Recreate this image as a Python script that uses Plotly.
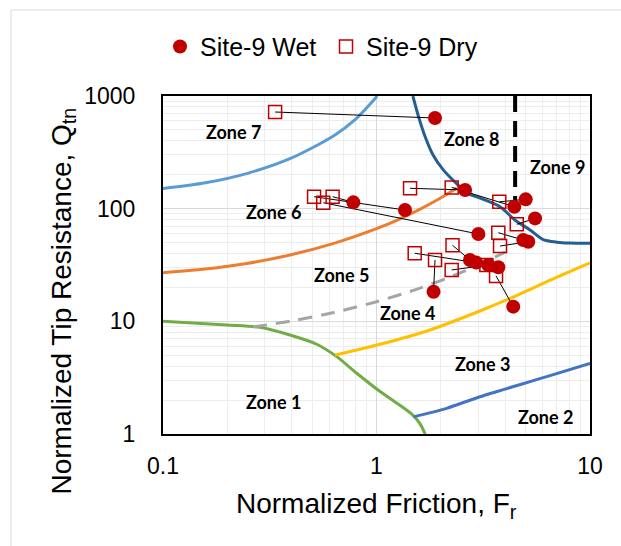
import plotly.graph_objects as go

# ---- Site-9 CPT data: normalized friction ratio Fr (%) and tip resistance Qtn ----
# Each dry sounding point is paired with the wet point at the same index.
dry_fr = [0.335, 0.51, 0.563, 0.623, 1.436, 2.25, 3.76, 4.54, 3.72, 3.79, 2.27, 1.51, 1.88, 2.25, 3.27, 3.63]
dry_qtn = [721, 127.7, 113, 127.7, 151.6, 154.5, 115, 72.6, 61.2, 46.6, 47.3, 40.2, 35, 28.6, 31.6, 25.3]
wet_fr = [1.88, 1.36, 3.0, 0.779, 2.6, 4.42, 5.0, 5.53, 4.87, 5.14, 2.74, 2.93, 1.85, 3.34, 3.72, 4.37]
wet_qtn = [638, 97.3, 59.6, 113.8, 146.5, 104, 121, 82, 52.7, 50.9, 35, 33.2, 18.3, 31.6, 30.2, 13.5]

# ---- Soil behaviour type zone boundaries ----
b7_fr = [0.1, 0.158, 0.251, 0.398, 0.631, 0.794, 1.0, 1.006]
b7_q = [150.8, 169.5, 207, 280.8, 444.6, 617, 983.5, 1000]

b6_fr = [0.1, 0.158, 0.251, 0.398, 0.631, 1.0, 1.259, 1.585, 1.995, 2.38]
b6_q = [27.0, 29.1, 32.8, 39.0, 49.2, 66.5, 79.7, 98.0, 124.3, 152.6]

b8_fr = [1.48, 1.58, 1.69, 1.84, 2.06, 2.4, 2.65, 3.06, 3.79, 4.46, 5.24, 6.0, 7.0, 8.0, 10.0]
b8_q = [1000, 640, 435, 300, 220, 163, 137, 124, 104, 79, 64.7, 53.5, 50.4, 49.5, 49.3]

b9_fr = [4.46, 4.46]
b9_q = [1000, 79]

b45_fr = [0.264, 0.398, 0.631, 1.0, 1.585, 2.512, 3.548, 4.0]
b45_q = [8.92, 10.06, 11.98, 14.93, 19.59, 27.3, 36.8, 41.2]

b34_fr = [0.64, 1.04, 1.78, 3.05, 4.36, 7.0, 10.0]
b34_q = [5.03, 6.26, 8.38, 12.35, 16.4, 24.7, 33.1]

b23_fr = [1.49, 2.13, 3.05, 6.27, 10.0]
b23_q = [1.42, 1.69, 2.14, 3.23, 4.24]

b1_fr = [0.1, 0.199, 0.284, 0.393, 0.525, 0.651, 0.808, 1.016, 1.26, 1.48, 1.60, 1.69]
b1_q = [10.0, 9.28, 8.85, 7.56, 6.26, 4.86, 3.46, 2.46, 1.85, 1.47, 1.23, 1.0]

zone_names = ["Zone 1", "Zone 2", "Zone 3", "Zone 4", "Zone 5", "Zone 6", "Zone 7", "Zone 8", "Zone 9"]
# label anchor points (log10 Fr, log10 Qtn)
zone_pos = [(-0.483, 0.281), (0.792, 0.153), (0.496, 0.621), (0.143, 1.074), (-0.163, 1.411),
            (-0.483, 1.973), (-0.671, 2.683), (0.446, 2.616), (0.848, 2.367)]

x_ticks = [0.1, 1, 10]
x_ticktext = ["0.1", "1", "10"]
y_ticks = [1, 10, 100, 1000]
y_ticktext = ["1", "10", "100", "1000"]

RED = "#C00000"
FONT = "Liberation Sans, Arial, sans-serif"

fig = go.Figure()


def boundary(xs, ys, color, width=3, dash="solid", shape="spline"):
    fig.add_trace(go.Scatter(x=xs, y=ys, mode="lines", showlegend=False, hoverinfo="skip",
                             line=dict(color=color, width=width, dash=dash, shape=shape, smoothing=0.8)))


boundary(b7_fr, b7_q, "#5B9BD5")
boundary(b6_fr, b6_q, "#ED7D31")
boundary(b8_fr, b8_q, "#255E91")
boundary(b1_fr, b1_q, "#70AD47")
boundary(b34_fr, b34_q, "#FFC000")
boundary(b23_fr, b23_q, "#4472C4")
boundary(b45_fr, b45_q, "#A5A5A5", dash="14px,9px")
boundary(b9_fr, b9_q, "#000000", width=4, dash="16px,9px", shape="linear")

# connectors from each dry point to its wet counterpart
cx, cy = [], []
for fd, qd, fw, qw in zip(dry_fr, dry_qtn, wet_fr, wet_qtn):
    cx += [fd, fw, None]
    cy += [qd, qw, None]
fig.add_trace(go.Scatter(x=cx, y=cy, mode="lines", showlegend=False, hoverinfo="skip",
                         line=dict(color="#000000", width=1)))

fig.add_trace(go.Scatter(x=dry_fr, y=dry_qtn, mode="markers", name="Site-9 Dry", legendrank=2,
                         marker=dict(symbol="square-open", size=13, color=RED, line=dict(color=RED, width=1.5))))
fig.add_trace(go.Scatter(x=wet_fr, y=wet_qtn, mode="markers", name="Site-9 Wet", legendrank=1,
                         marker=dict(symbol="circle", size=14, color=RED)))

annotations = []
for name, (ax, ay) in zip(zone_names, zone_pos):
    annotations.append(dict(x=ax, y=ay, xref="x", yref="y", text="<b>" + name + "</b>", showarrow=False,
                            xanchor="center", yanchor="middle",
                            font=dict(family="Lato, Liberation Sans, sans-serif", size=18, color="#000000")))

annotations.append(dict(x=0.5, y=(434 - 505) / 338, xref="paper", yref="paper", showarrow=False,
                        xanchor="center", yanchor="middle",
                        text="Normalized Friction, F<sub>r</sub>",
                        font=dict(family=FONT, size=28, color="#000000")))
annotations.append(dict(x=(63 - 163) / 427, y=(434 - 301.5) / 338, xref="paper", yref="paper",
                        showarrow=False, textangle=-90, xanchor="center", yanchor="middle",
                        text="Normalized Tip Resistance, Q<sub>tn</sub>",
                        font=dict(family=FONT, size=28, color="#000000")))

axis_common = dict(
    type="log", showline=True, linecolor="#000000", linewidth=2, mirror=True,
    ticks="", showgrid=True, gridcolor="#D9D9D9", gridwidth=1, zeroline=False,
    tickfont=dict(family=FONT, size=23, color="#000000"),
    minor=dict(dtick="D1", showgrid=True, gridcolor="#EDEDED", gridwidth=1, ticks=""),
)

fig.update_xaxes(range=[-1, 1], tickvals=x_ticks, ticktext=x_ticktext, ticklabelstandoff=10, **axis_common)
fig.update_yaxes(range=[0, 3], tickvals=y_ticks, ticktext=y_ticktext, ticklabelstandoff=21, **axis_common)

fig.update_layout(
    width=621, height=546,
    margin=dict(l=163, r=31, t=96, b=112),
    paper_bgcolor="#FFFFFF", plot_bgcolor="#FFFFFF",
    font=dict(family=FONT, color="#000000"),
    showlegend=True,
    legend=dict(orientation="h", x=-0.007, xanchor="left", y=(434 - 46.7) / 338, yanchor="middle",
                font=dict(family=FONT, size=25, color="#000000"), bgcolor="rgba(0,0,0,0)",
                entrywidth=121, entrywidthmode="pixels", itemclick=False),
    annotations=annotations,
    shapes=[dict(type="rect", xref="paper", yref="paper", x0=(11 - 163) / 427, x1=1.2,
                 y0=-0.5, y1=(434 - 10) / 338, line=dict(color="#D9D9D9", width=1), layer="below")],
)

fig.write_html("out.html")
